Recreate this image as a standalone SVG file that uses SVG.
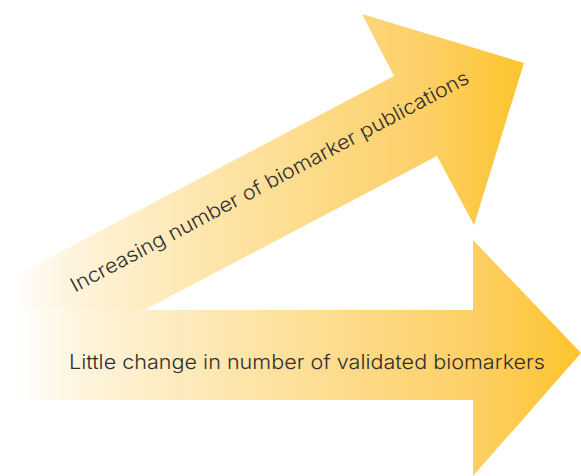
<svg xmlns="http://www.w3.org/2000/svg" width="581" height="476" viewBox="0 0 581 476">
  <style>
    .lbl { font-family: Inter, Lato, "Liberation Sans", sans-serif; font-weight: 300; font-size: 20px; fill: #2e2e2e; }
  </style>
  <defs>
    <linearGradient id="gUp" gradientUnits="userSpaceOnUse" x1="11" y1="0" x2="524" y2="0">
      <stop offset="0" stop-color="#ffffff"/>
      <stop offset="0.12" stop-color="#fef4dc"/>
      <stop offset="0.45" stop-color="#fde2a0"/>
      <stop offset="0.8" stop-color="#fdd068"/>
      <stop offset="1" stop-color="#fdc42c"/>
    </linearGradient>
    <linearGradient id="gLow" gradientUnits="userSpaceOnUse" x1="16" y1="0" x2="581" y2="0">
      <stop offset="0" stop-color="#ffffff"/>
      <stop offset="0.12" stop-color="#fef4dc"/>
      <stop offset="0.45" stop-color="#fde2a0"/>
      <stop offset="0.8" stop-color="#fdd068"/>
      <stop offset="1" stop-color="#fdc42c"/>
    </linearGradient>
  </defs>
  <g id="arrow-publications">
    <polygon points="11,278 394,76 362,14 524,63 474,225 437,156 11,380" fill="url(#gUp)"/>
    <text class="lbl" x="75" y="292.7" transform="rotate(-28 75 292.7)" textLength="448" lengthAdjust="spacingAndGlyphs">Increasing number of biomarker publications</text>
  </g>
  <g id="arrow-validated">
    <polygon points="16,310 473,310 473,240 581,353 473,476 473,400 16,400" fill="url(#gLow)"/>
    <text class="lbl" x="69" y="369" textLength="476" lengthAdjust="spacingAndGlyphs">Little change in number of validated biomarkers</text>
  </g>
  <g id="connectors"/>
</svg>
